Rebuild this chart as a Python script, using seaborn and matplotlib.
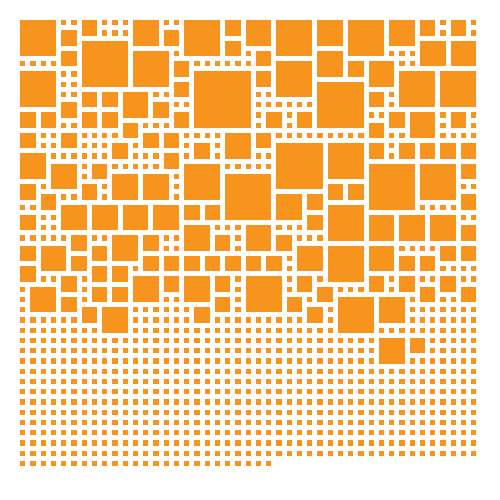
import matplotlib
matplotlib.use("Agg")
import matplotlib.pyplot as plt
from matplotlib.patches import Rectangle
import seaborn as sns
import numpy as np

sns.set_style("white")

n_cols = 45
n_rows = 44
last_row_count = 25

block_col = [0,4,6,6,11,14,11,4,0,15,15,4,6,8,10,13,15,0,2,6,8,10,0,4,12,14,9,0,3,7,14,9,12,
             16,20,22,25,29,20,23,17,23,25,29,29,24,27,17,20,23,25,30,16,20,
             32,36,39,42,39,42,32,34,37,41,34,36,38,42,34,34,37,39,41,43,34,39,43,
             0,6,2,4,7,10,13,0,5,9,12,0,2,7,5,12,14,7,9,0,4,11,14,1,7,9,4,6,8,
             30,25,28,30,16,18,28,16,19,22,25,27,16,18,20,22,24,16,19,22,27,29,19,26,17,28,31,30,
             32,43,34,37,40,43,34,37,39,41,43,34,37,39,41,43,35,35,38]
block_row = [0,1,0,2,0,1,3,3,5,4,6,8,7,7,7,8,9,9,9,9,9,10,11,11,11,11,12,13,14,14,13,15,15,
             0,0,0,0,0,2,3,5,5,4,3,6,9,9,12,11,11,12,12,14,15,
             0,0,0,0,2,2,4,4,5,5,7,9,9,9,10,12,12,12,12,12,14,14,14,
             16,16,17,18,18,18,18,19,21,21,21,22,22,22,23,23,23,24,24,24,25,25,25,26,26,26,27,28,28,
             16,17,17,18,18,18,19,20,21,20,21,22,23,23,23,23,23,25,25,25,25,26,27,27,28,28,27,22,
             16,17,19,19,19,20,22,23,23,22,22,25,25,26,25,26,27,31,31]
block_size = [4,2,2,5,3,2,4,2,4,2,2,2,2,2,3,2,2,2,2,2,2,2,2,2,2,2,2,3,3,2,2,3,3,
              4,2,3,4,3,2,2,6,2,4,3,5,2,2,2,3,2,5,4,4,5,
              4,3,2,2,3,3,2,3,4,4,2,2,3,2,2,2,2,2,2,2,5,4,2,
              2,2,2,3,3,3,3,2,2,3,2,2,3,2,2,2,2,2,2,2,2,3,2,3,2,2,2,2,3,
              2,3,2,4,2,2,2,3,2,3,2,3,2,2,2,2,2,3,2,4,2,2,2,2,2,2,4,4,
              2,2,3,3,3,2,3,2,2,2,2,2,2,2,2,2,3,3,2]

color = "#F7941D"
pitch = 10.25
gap = 5.0
x0, y0 = 20.0, 20.0

fig = plt.figure(figsize=(5, 5), dpi=100)
ax = fig.add_axes([0, 0, 1, 1])
ax.set_xlim(0, 500)
ax.set_ylim(500, 0)
ax.axis("off")

occ = np.zeros((n_rows, n_cols), dtype=bool)
for c, r, s in zip(block_col, block_row, block_size):
    occ[r:r + s, c:c + s] = True
    ax.add_patch(Rectangle((x0 + c * pitch, y0 + r * pitch), s * pitch - gap, s * pitch - gap,
                           facecolor=color, edgecolor="none"))

for r in range(n_rows):
    for c in range(n_cols):
        if r == n_rows - 1 and c >= last_row_count:
            continue
        if occ[r, c]:
            continue
        ax.add_patch(Rectangle((x0 + c * pitch, y0 + r * pitch), pitch - gap, pitch - gap,
                               facecolor=color, edgecolor="none"))

fig.savefig("out.png", dpi=100)
